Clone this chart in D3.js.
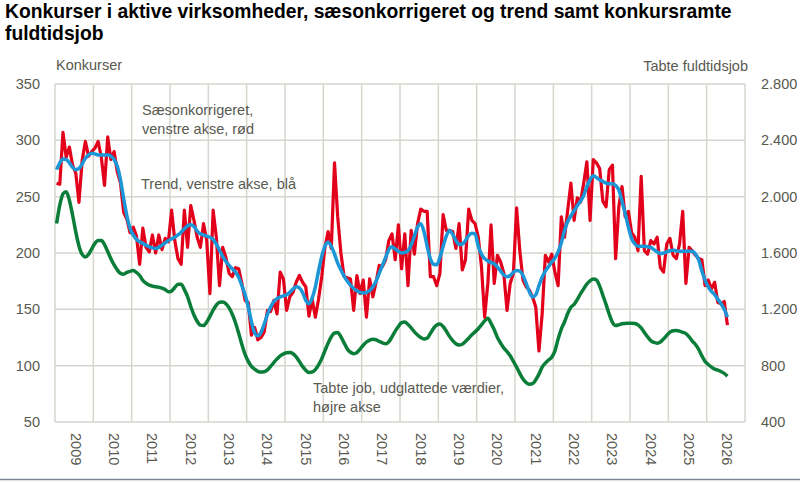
<!DOCTYPE html>
<html>
<head>
<meta charset="utf-8">
<script src="https://cdn.jsdelivr.net/npm/d3@7"></script>
<style>
  body { margin: 0; background: #fff; }
  svg { display: block; font-family: "Liberation Sans", Arial, sans-serif; }
</style>
</head>
<body>
<div id="chart"></div>
<script>
// Tick labels
var years = [2009, 2010, 2011, 2012, 2013, 2014, 2015, 2016, 2017, 2018, 2019, 2020, 2021, 2022, 2023, 2024, 2025, 2026];
var leftTicks = [50, 100, 150, 200, 250, 300, 350];
var rightTicks = [400, 800, 1200, 1600, 2000, 2400, 2800];

// Monthly values from 2008M07 to 2026M01
// Konkurser, saesonkorrigeret (left axis)
var saeson = [262, 261, 307, 285, 294, 278, 271, 245, 282, 299, 286, 290, 293, 299, 285, 260, 303, 283, 290, 272, 262, 236, 230, 218,
  223, 215, 190, 222, 205, 201, 216, 200, 216, 203, 213, 210, 238, 211, 195, 190, 238, 205, 242, 229,
  214, 205, 226, 211, 164, 238, 214, 171, 205, 196, 182, 179, 187, 186, 173, 158, 156, 127, 134, 123, 125, 130, 149, 148, 158, 146,
  183, 177, 149, 161, 165, 174, 180, 174, 170, 144, 159, 143, 159, 179, 205, 219, 204, 280,
  232, 200, 179, 178, 177, 149, 180, 164, 176, 143, 177, 161, 174, 189, 188, 194, 211, 217, 194, 225, 186, 217, 171, 220, 199, 226,
  239, 237, 237, 179, 179, 171, 182, 234, 220, 220, 219, 204, 226, 185, 194, 239, 229, 226,
  214, 188, 143, 173, 225, 173, 198, 192, 182, 149, 173, 182, 240, 202, 176, 170, 167, 161, 152, 113, 146, 198, 192, 199, 183, 171,
  232, 214, 238, 262, 229, 249, 245, 262, 281, 229, 283, 280, 275, 246, 241, 274, 278, 195, 241, 259, 232, 237, 218, 214, 202, 268,
  202, 199, 211, 208, 214, 187, 183, 208, 213, 198, 195, 208, 237, 173, 205, 202, 198, 195, 194, 171, 176, 168, 174, 156, 155, 157, 136];

// Konkurser, trend (left axis)
var trend = [274, 280, 283.5, 283, 280, 276, 274, 275, 279, 284, 287, 288.5, 288, 287, 287, 287, 287, 286, 283, 277,
  265, 248, 233, 222, 216, 212, 210, 208.5, 207, 205.5, 204.5, 204, 205, 207, 209, 211, 212.5, 214, 216, 218.5, 221.5, 224, 225, 223.5,
  219.5, 217, 216, 215, 214, 212, 208, 202.5, 197, 192.5, 189, 186, 183, 178.5, 171, 163, 152, 139, 129, 126.5,
  129.5, 137, 145.5, 152, 157, 159.5, 161, 162, 163, 165, 168, 170, 169, 165, 158, 155, 160, 170, 184, 197, 206,
  209.5, 206, 199, 191, 185, 179.5, 175, 171.5, 168.5, 166.5, 165, 164.5, 165, 166.5, 170, 175, 182, 189, 196, 203,
  205.5, 203.5, 201.5, 200, 200.5, 202, 207, 215, 223, 226, 219, 206, 195, 190, 189.5, 196, 206, 215, 220, 216.5,
  211, 207.5, 208, 211, 215.5, 217.5, 217,
  206, 199, 195, 193, 191.5, 190.5, 187.5, 184, 180.5, 179, 180, 183, 184.5, 184, 180, 173, 165.5, 161, 163, 171,
  178.5, 184, 188, 192, 195.5, 201, 209, 220, 228, 233, 237.5, 242, 246, 251, 259, 265, 268.5, 267, 265, 263.5,
  262, 261.5, 261.5, 260, 256, 246, 235, 223, 213, 208, 206, 206, 206, 205.5, 205, 203, 201, 199.5, 200, 201,
  202, 202.5, 202, 201.5, 201.5, 201.5, 201.5, 201.5, 199, 194, 184, 176, 170, 166, 163, 159, 155, 150, 143];

// Tabte fuldtidsjob, udglattede vaerdier (right axis)
var tabteJob = [1810, 1940, 2020, 2035, 1975, 1870, 1750, 1650, 1590, 1572, 1590, 1630, 1668, 1688, 1688, 1660, 1610, 1560, 1515, 1480,
  1455, 1450, 1462, 1470, 1475, 1462, 1440, 1405, 1385, 1372, 1365, 1360, 1357, 1350, 1340, 1325, 1330, 1355, 1378, 1378,
  1340, 1290, 1220, 1160, 1115, 1088, 1085, 1110, 1150, 1195, 1230, 1250, 1252, 1240, 1210, 1165, 1105, 1030, 950, 880,
  830, 795, 775, 760, 755, 757, 770, 795, 822, 848, 870, 883, 892, 893, 885, 862, 830, 795, 768, 752,
  755, 772, 805, 850, 905, 960, 1005, 1032,
  1035, 1005, 962, 918, 895, 885, 893, 918, 945, 968, 982, 988, 984, 972, 962, 955, 970, 1005, 1045, 1078,
  1105, 1110, 1092, 1068, 1040, 1018, 1000, 990, 995, 1028, 1065, 1088, 1095, 1078, 1045, 1008, 978, 956, 947, 952,
  972, 995, 1020, 1040,
  1062, 1090, 1118, 1136, 1100, 1055, 1000, 960, 925, 900, 870, 830, 790, 745, 705, 680, 668, 672, 700, 740,
  790, 818, 840, 860, 905, 990, 1060, 1110, 1170, 1215, 1235, 1270, 1310, 1345, 1380, 1402, 1415, 1408, 1365, 1300,
  1235, 1165, 1108, 1085, 1090, 1098, 1100, 1102, 1102, 1100, 1090, 1068, 1036, 1005, 978, 965, 960, 968, 990, 1015,
  1038, 1048, 1050, 1045, 1037, 1028, 1005, 975, 950, 915, 870, 830, 808, 790, 775, 768, 758, 745, 725];

var width = 800, height = 482;
var margin = { top: 84, right: 55, bottom: 60, left: 55 };
var textGrey = "#595950";
var gridGrey = "#d6d6cf";

var svg = d3.select("#chart").append("svg")
    .attr("width", width)
    .attr("height", height);

// Month categories 2008M07 .. 2026M06 (18 year bands)
var months = d3.range(216).map(function (i) {
    var m = 6 + i;
    return (2008 + Math.floor(m / 12)) + "M" + String(m % 12 + 1).padStart(2, "0");
});

var x = d3.scaleBand().domain(months).range([margin.left, width - margin.right]);
var y = d3.scaleLinear().domain([50, 350]).range([height - margin.bottom, margin.top]);
var y2 = d3.scaleLinear().domain([400, 2800]).range([height - margin.bottom, margin.top]);
function cx(i) { return x(months[i]) + x.bandwidth() / 2; }

var plotBottom = height - margin.bottom;

// Horizontal gridlines
svg.append("g").selectAll("line")
    .data(leftTicks)
    .enter().append("line")
    .attr("x1", margin.left).attr("x2", width - margin.right)
    .attr("y1", function (d) { return y(d); })
    .attr("y2", function (d) { return y(d); })
    .attr("stroke", gridGrey).attr("stroke-width", 1.5);

// Vertical gridlines, one per year (July)
var vlines = d3.range(0, 216, 12).map(function (i) { return x(months[i]); });
vlines.push(width - margin.right);
svg.append("g").selectAll("line")
    .data(vlines)
    .enter().append("line")
    .attr("x1", function (d) { return d; }).attr("x2", function (d) { return d; })
    .attr("y1", margin.top).attr("y2", plotBottom)
    .attr("stroke", gridGrey).attr("stroke-width", 1.5);

// Left axis
var leftAxis = svg.append("g")
    .attr("transform", "translate(" + margin.left + ",0)")
    .call(d3.axisLeft(y).tickValues(leftTicks).tickSize(0).tickPadding(15));
leftAxis.select(".domain").remove();
leftAxis.selectAll("text")
    .style("font-size", "14.5px").attr("fill", textGrey);

// Right axis, Danish thousands separator
var dk = d3.formatLocale({ decimal: ",", thousands: ".", grouping: [3], currency: ["", ""] });
var rightAxis = svg.append("g")
    .attr("transform", "translate(" + (width - margin.right) + ",0)")
    .call(d3.axisRight(y2).tickValues(rightTicks).tickSize(0).tickPadding(16).tickFormat(dk.format(",")));
rightAxis.select(".domain").remove();
rightAxis.selectAll("text")
    .style("font-size", "14.5px").attr("fill", textGrey);

// Bottom axis with rotated years at January
var bottomAxis = svg.append("g")
    .attr("transform", "translate(0," + plotBottom + ")")
    .call(d3.axisBottom(x)
        .tickValues(years.map(function (d) { return d + "M01"; }))
        .tickSize(0)
        .tickFormat(function (d) { return d.slice(0, 4); }));
bottomAxis.select(".domain").remove();
bottomAxis.selectAll("text")
    .attr("transform", "rotate(90)")
    .attr("x", 11).attr("y", 0).attr("dy", "0.35em")
    .style("text-anchor", "start")
    .style("font-size", "14.5px").attr("fill", textGrey);

// Series lines
var lineLeft = d3.line().x(function (d, i) { return cx(i); }).y(function (d) { return y(d); });
var lineRight = d3.line().x(function (d, i) { return cx(i); }).y(function (d) { return y2(d); })
    .curve(d3.curveMonotoneX);

svg.append("path").datum(tabteJob)
    .attr("d", lineRight)
    .attr("fill", "none").attr("stroke", "#0a7d38").attr("stroke-width", 3.5)
    .attr("stroke-linejoin", "round");

svg.append("path").datum(saeson)
    .attr("d", lineLeft)
    .attr("fill", "none").attr("stroke", "#e2001a").attr("stroke-width", 3.2)
    .attr("stroke-linejoin", "round");

svg.append("path").datum(trend)
    .attr("d", lineLeft.curve(d3.curveMonotoneX))
    .attr("fill", "none").attr("stroke", "#1b96d6").attr("stroke-width", 3.5)
    .attr("stroke-linejoin", "round");

// Title
var title = svg.append("text")
    .attr("x", 5).attr("y", 18)
    .style("font-size", "19.3px").style("font-weight", "bold").attr("fill", "#000");
title.append("tspan").attr("x", 5).text("Konkurser i aktive virksomheder, sæsonkorrigeret og trend samt konkursramte");
title.append("tspan").attr("x", 5).attr("dy", 21.5).text("fuldtidsjob");

// Axis titles
svg.append("text")
    .attr("x", 56).attr("y", 70)
    .style("font-size", "14.5px").attr("fill", textGrey)
    .text("Konkurser");
svg.append("text")
    .attr("x", 748).attr("y", 71)
    .style("font-size", "14.5px").attr("fill", textGrey)
    .style("text-anchor", "end")
    .text("Tabte fuldtidsjob");

// Series annotations
function note(xp, yp, lines) {
    var t = svg.append("text")
        .attr("x", xp).attr("y", yp)
        .style("font-size", "14.5px").attr("fill", textGrey);
    lines.forEach(function (s, k) {
        t.append("tspan").attr("x", xp).attr("dy", k === 0 ? 0 : 18.5).text(s);
    });
}
note(142, 115, ["Sæsonkorrigeret,", "venstre akse, rød"]);
note(141, 189, ["Trend, venstre akse, blå"]);
note(313, 393, ["Tabte job, udglattede værdier,", "højre akse"]);

// Bottom rule
svg.append("line")
    .attr("x1", 0).attr("x2", width)
    .attr("y1", 479.5).attr("y2", 479.5)
    .attr("stroke", "#7d8690").attr("stroke-width", 1.5);
</script>
</body>
</html>
